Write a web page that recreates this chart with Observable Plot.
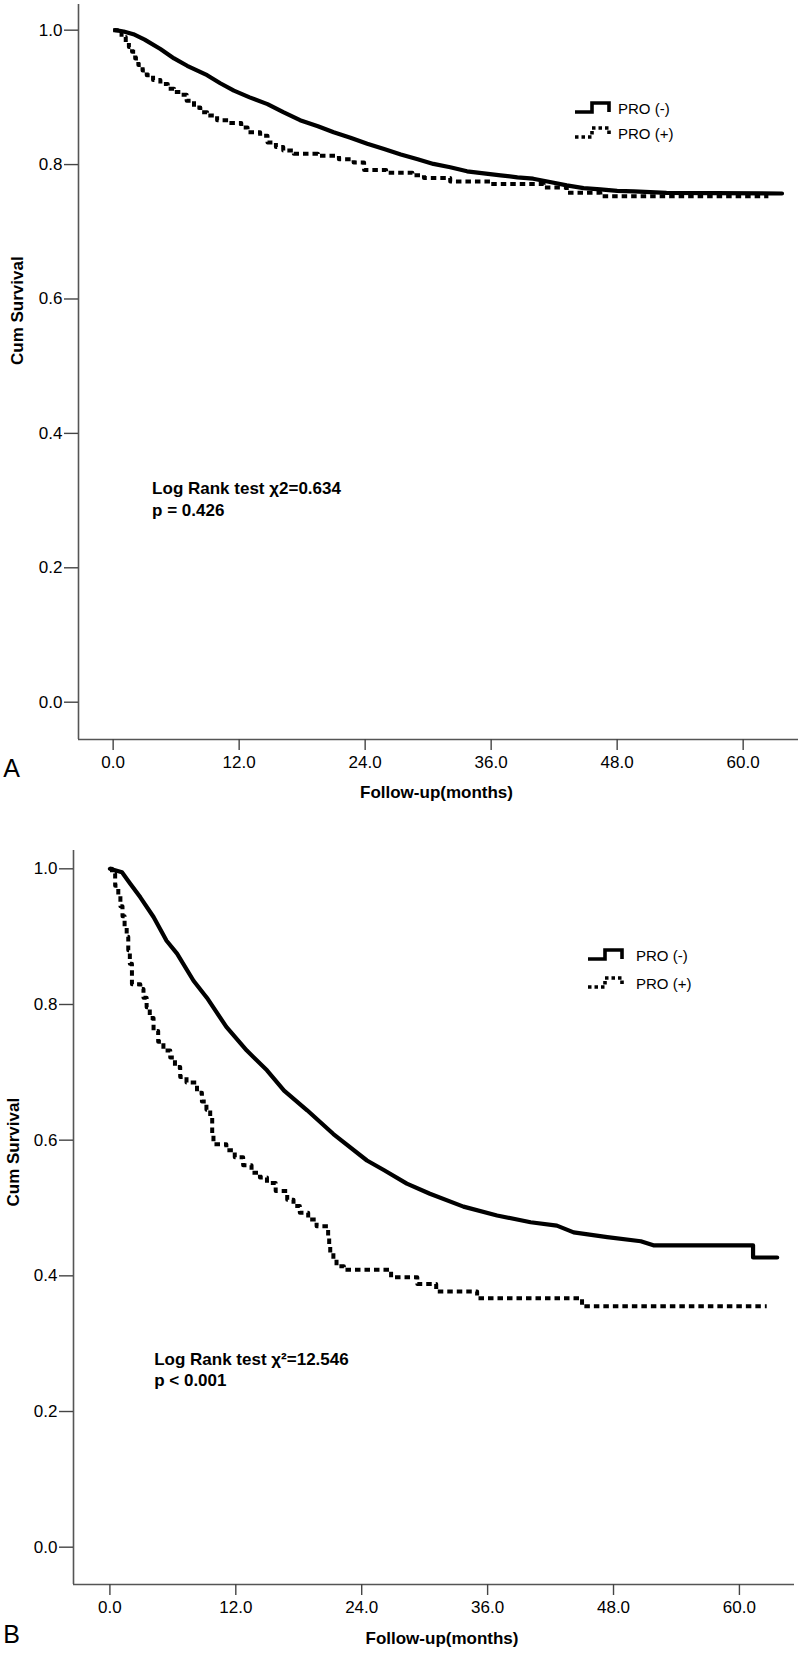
<!DOCTYPE html>
<html>
<head>
<meta charset="utf-8">
<script src="https://cdn.jsdelivr.net/npm/d3@7"></script>
<script src="https://cdn.jsdelivr.net/npm/@observablehq/plot@0.6"></script>
<style>
  body { margin: 0; background: #fff; font-family: "Liberation Sans", Arial, sans-serif; }
  .panel { position: relative; width: 800px; }
  .leg { position: absolute; font-size: 15px; color: #000; line-height: 1; white-space: nowrap; }
  .leg svg { position: absolute; overflow: visible; }
  .leg span { position: absolute; transform: translateY(-50%); }
</style>
</head>
<body>
<div id="A" class="panel" style="height:820px"></div>
<div id="B" class="panel" style="height:834px"></div>
<script>
// ---- axis ticks ----
const monthTicks = [0, 12, 24, 36, 48, 60];
const survTicks = [0, 0.2, 0.4, 0.6, 0.8, 1.0];
const seriesNames = ["PRO (-)", "PRO (+)"];

// ---- Panel A: PRO (-) ----
const A_neg_t = [0.2, 1.0, 1.93, 3.0, 4.5, 5.8, 7.05, 8.95, 10.2, 11.5, 13.0, 14.7, 16.2, 17.8, 19.5, 21.0, 22.6, 24.2, 25.8, 27.4, 29.0, 30.5, 32.1, 33.7, 35.3, 36.9, 38.5, 40.0, 41.6, 43.2, 44.8, 46.4, 48.0, 49.6, 52.7, 63.7];
const A_neg_s = [1.0, 0.998, 0.994, 0.986, 0.972, 0.958, 0.947, 0.933, 0.921, 0.910, 0.900, 0.890, 0.878, 0.866, 0.857, 0.848, 0.840, 0.831, 0.823, 0.815, 0.808, 0.801, 0.796, 0.790, 0.787, 0.784, 0.781, 0.779, 0.774, 0.769, 0.765, 0.763, 0.761, 0.760, 0.758, 0.757];
// ---- Panel A: PRO (+) ----
const A_pos_t = [0, 0.8, 1.2, 1.5, 1.8, 2.1, 2.4, 2.8, 3.2, 3.8, 4.5, 5.2, 5.8, 6.4, 7.0, 7.7, 8.3, 8.95, 9.9, 11.0, 12.2, 12.8, 14.0, 14.7, 15.5, 16.2, 17.2, 19.5, 21.5, 22.9, 23.9, 26.0, 28.5, 29.6, 32.1, 35.9, 41.0, 43.2, 46.4, 62.4];
const A_pos_s = [1.0, 0.99, 0.982, 0.975, 0.968, 0.958, 0.948, 0.940, 0.933, 0.926, 0.920, 0.913, 0.908, 0.904, 0.895, 0.885, 0.878, 0.873, 0.866, 0.862, 0.855, 0.848, 0.843, 0.833, 0.826, 0.821, 0.816, 0.813, 0.808, 0.803, 0.792, 0.788, 0.784, 0.780, 0.775, 0.771, 0.766, 0.758, 0.753, 0.753];

// ---- Panel B: PRO (-) ----
const B_neg_t = [0, 1.15, 1.94, 2.9, 4.16, 5.4, 6.4, 7.97, 9.24, 11.1, 13.05, 14.97, 16.6, 18.8, 21.3, 24.5, 26.1, 28.3, 30.5, 33.7, 36.9, 40.1, 42.6, 44.2, 47.4, 50.6, 51.8, 61.3, 61.3, 63.6];
const B_neg_s = [1.0, 0.995, 0.978, 0.958, 0.929, 0.894, 0.875, 0.835, 0.810, 0.767, 0.732, 0.703, 0.673, 0.644, 0.609, 0.570, 0.556, 0.536, 0.521, 0.502, 0.489, 0.479, 0.474, 0.464, 0.457, 0.451, 0.445, 0.445, 0.427, 0.427];
// ---- Panel B: PRO (+) ----
const B_pos_t = [0, 0.2, 0.5, 0.8, 1.0, 1.2, 1.4, 1.6, 1.75, 1.9, 2.1, 2.9, 3.2, 3.5, 3.8, 4.16, 4.6, 5.1, 5.75, 6.2, 6.7, 7.3, 8.3, 8.77, 9.2, 9.56, 9.75, 9.87, 11.1, 11.9, 12.7, 13.5, 14.3, 14.97, 15.8, 16.9, 17.5, 18.1, 18.9, 19.7, 20.8, 20.9, 21.0, 21.3, 21.6, 22.3, 26.8, 29.3, 31.1, 35.0, 45.0, 62.6];
const B_pos_s = [1.0, 0.993, 0.975, 0.960, 0.945, 0.930, 0.915, 0.900, 0.880, 0.860, 0.830, 0.823, 0.810, 0.796, 0.780, 0.761, 0.745, 0.732, 0.722, 0.708, 0.693, 0.685, 0.670, 0.657, 0.645, 0.633, 0.610, 0.594, 0.585, 0.575, 0.563, 0.552, 0.545, 0.537, 0.525, 0.512, 0.503, 0.493, 0.483, 0.473, 0.459, 0.445, 0.434, 0.424, 0.414, 0.409, 0.398, 0.388, 0.377, 0.367, 0.355, 0.355];

// ---- annotation texts ----
const A_note = "Log Rank test χ2=0.634\np = 0.426";
const B_note = "Log Rank test χ²=12.546\np < 0.001";

const rows = (T, S) => T.map((t, i) => ({t, s: S[i]}));
const FONT = '"Liberation Sans", Arial, sans-serif';
const fmt = d3.format(".1f");

function panel(cfg) {
  const {height, mt, ml, mr, mb, xDom, yDom, neg, pos, note, noteAt, noteLH,
         letter, letterDx, letterDy, yLabDx, yLabDy, xLabDx, xLabDy} = cfg;
  return Plot.plot({
    width: 800, height,
    marginTop: mt, marginLeft: ml, marginRight: mr, marginBottom: mb,
    x: {domain: xDom},
    y: {domain: yDom},
    style: {fontFamily: FONT, fontSize: "17px", color: "#000", background: "#fff", overflow: "visible"},
    marks: [
      Plot.ruleX([xDom[0]], {stroke: "#555", strokeWidth: 1.6}),
      Plot.ruleY([yDom[0]], {stroke: "#555", strokeWidth: 1.6}),
      Plot.axisX({ticks: monthTicks, tickFormat: fmt, tickSize: 11, tickPadding: 5, label: null, stroke: "#444", strokeWidth: 1.4, fontSize: 17}),
      Plot.axisY({ticks: survTicks, tickFormat: fmt, tickSize: 14, tickPadding: 2, label: null, stroke: "#444", strokeWidth: 1.4, fontSize: 17}),
      Plot.line(pos, {x: "t", y: "s", curve: "step-after", stroke: "#000", strokeWidth: 4, strokeDasharray: "5.5,4", strokeLinecap: "butt"}),
      Plot.line(neg, {x: "t", y: "s", curve: "linear", stroke: "#000", strokeWidth: 4.2, strokeLinejoin: "round"}),
      Plot.text([note], {x: noteAt[0], y: noteAt[1], text: d => d, textAnchor: "start", lineAnchor: "middle", lineHeight: noteLH, fontWeight: "bold", fontSize: 17, fill: "#000"}),
      Plot.text(["Cum Survival"], {frameAnchor: "left", rotate: -90, dx: yLabDx, dy: yLabDy, fontWeight: "bold", fontSize: 17, fill: "#000"}),
      Plot.text(["Follow-up(months)"], {frameAnchor: "bottom", lineAnchor: "middle", dx: xLabDx, dy: xLabDy, fontWeight: "bold", fontSize: 17, fill: "#000"}),
      Plot.text([letter], {frameAnchor: "bottom-left", textAnchor: "middle", lineAnchor: "middle", dx: letterDx, dy: letterDy, fontSize: 25, fill: "#000"})
    ]
  });
}

function legend(container, L) {
  const div = document.createElement("div");
  div.className = "leg";
  div.style.left = "0px"; div.style.top = "0px";
  seriesNames.forEach((name, i) => {
    const y = L.y0 + i * L.dy;
    const svg = d3.create("svg").attr("width", 36).attr("height", 14)
      .style("left", L.gx + "px").style("top", (y - 7) + "px");
    svg.append("path").attr("d", "M0,11 H17 V2 H34 V11")
      .attr("fill", "none").attr("stroke", "#000").attr("stroke-width", 3.6)
      .attr("stroke-dasharray", i === 0 ? null : "3.5,3");
    div.appendChild(svg.node());
    const sp = document.createElement("span");
    sp.textContent = name;
    sp.style.left = L.tx + "px"; sp.style.top = y + "px";
    div.appendChild(sp);
  });
  container.appendChild(div);
}

const A = document.getElementById("A");
A.appendChild(panel({
  height: 820, mt: 4, ml: 78, mr: 2, mb: 81,
  xDom: [-3.3, 65.27], yDom: [-0.0555, 1.0382],
  neg: rows(A_neg_t, A_neg_s), pos: rows(A_pos_t, A_pos_s),
  note: A_note, noteAt: [3.71, 0.304], noteLH: 1.27,
  letter: "A", letterDx: -67, letterDy: 29,
  yLabDx: -61, yLabDy: -7, xLabDx: -2, xLabDy: 53
}));
legend(A, {gx: 575, tx: 618, y0: 108, dy: 25});

const B = document.getElementById("B");
B.appendChild(panel({
  height: 834, mt: 30, ml: 73, mr: 6, mb: 70,
  xDom: [-3.47, 65.25], yDom: [-0.055, 1.027],
  neg: rows(B_neg_t, B_neg_s), pos: rows(B_pos_t, B_pos_s),
  note: B_note, noteAt: [4.22, 0.263], noteLH: 1.24,
  letter: "B", letterDx: -62, letterDy: 50,
  yLabDx: -60, yLabDy: -11, xLabDx: 8, xLabDy: 54
}));
legend(B, {gx: 588, tx: 636, y0: 135, dy: 28});
</script>
</body>
</html>
